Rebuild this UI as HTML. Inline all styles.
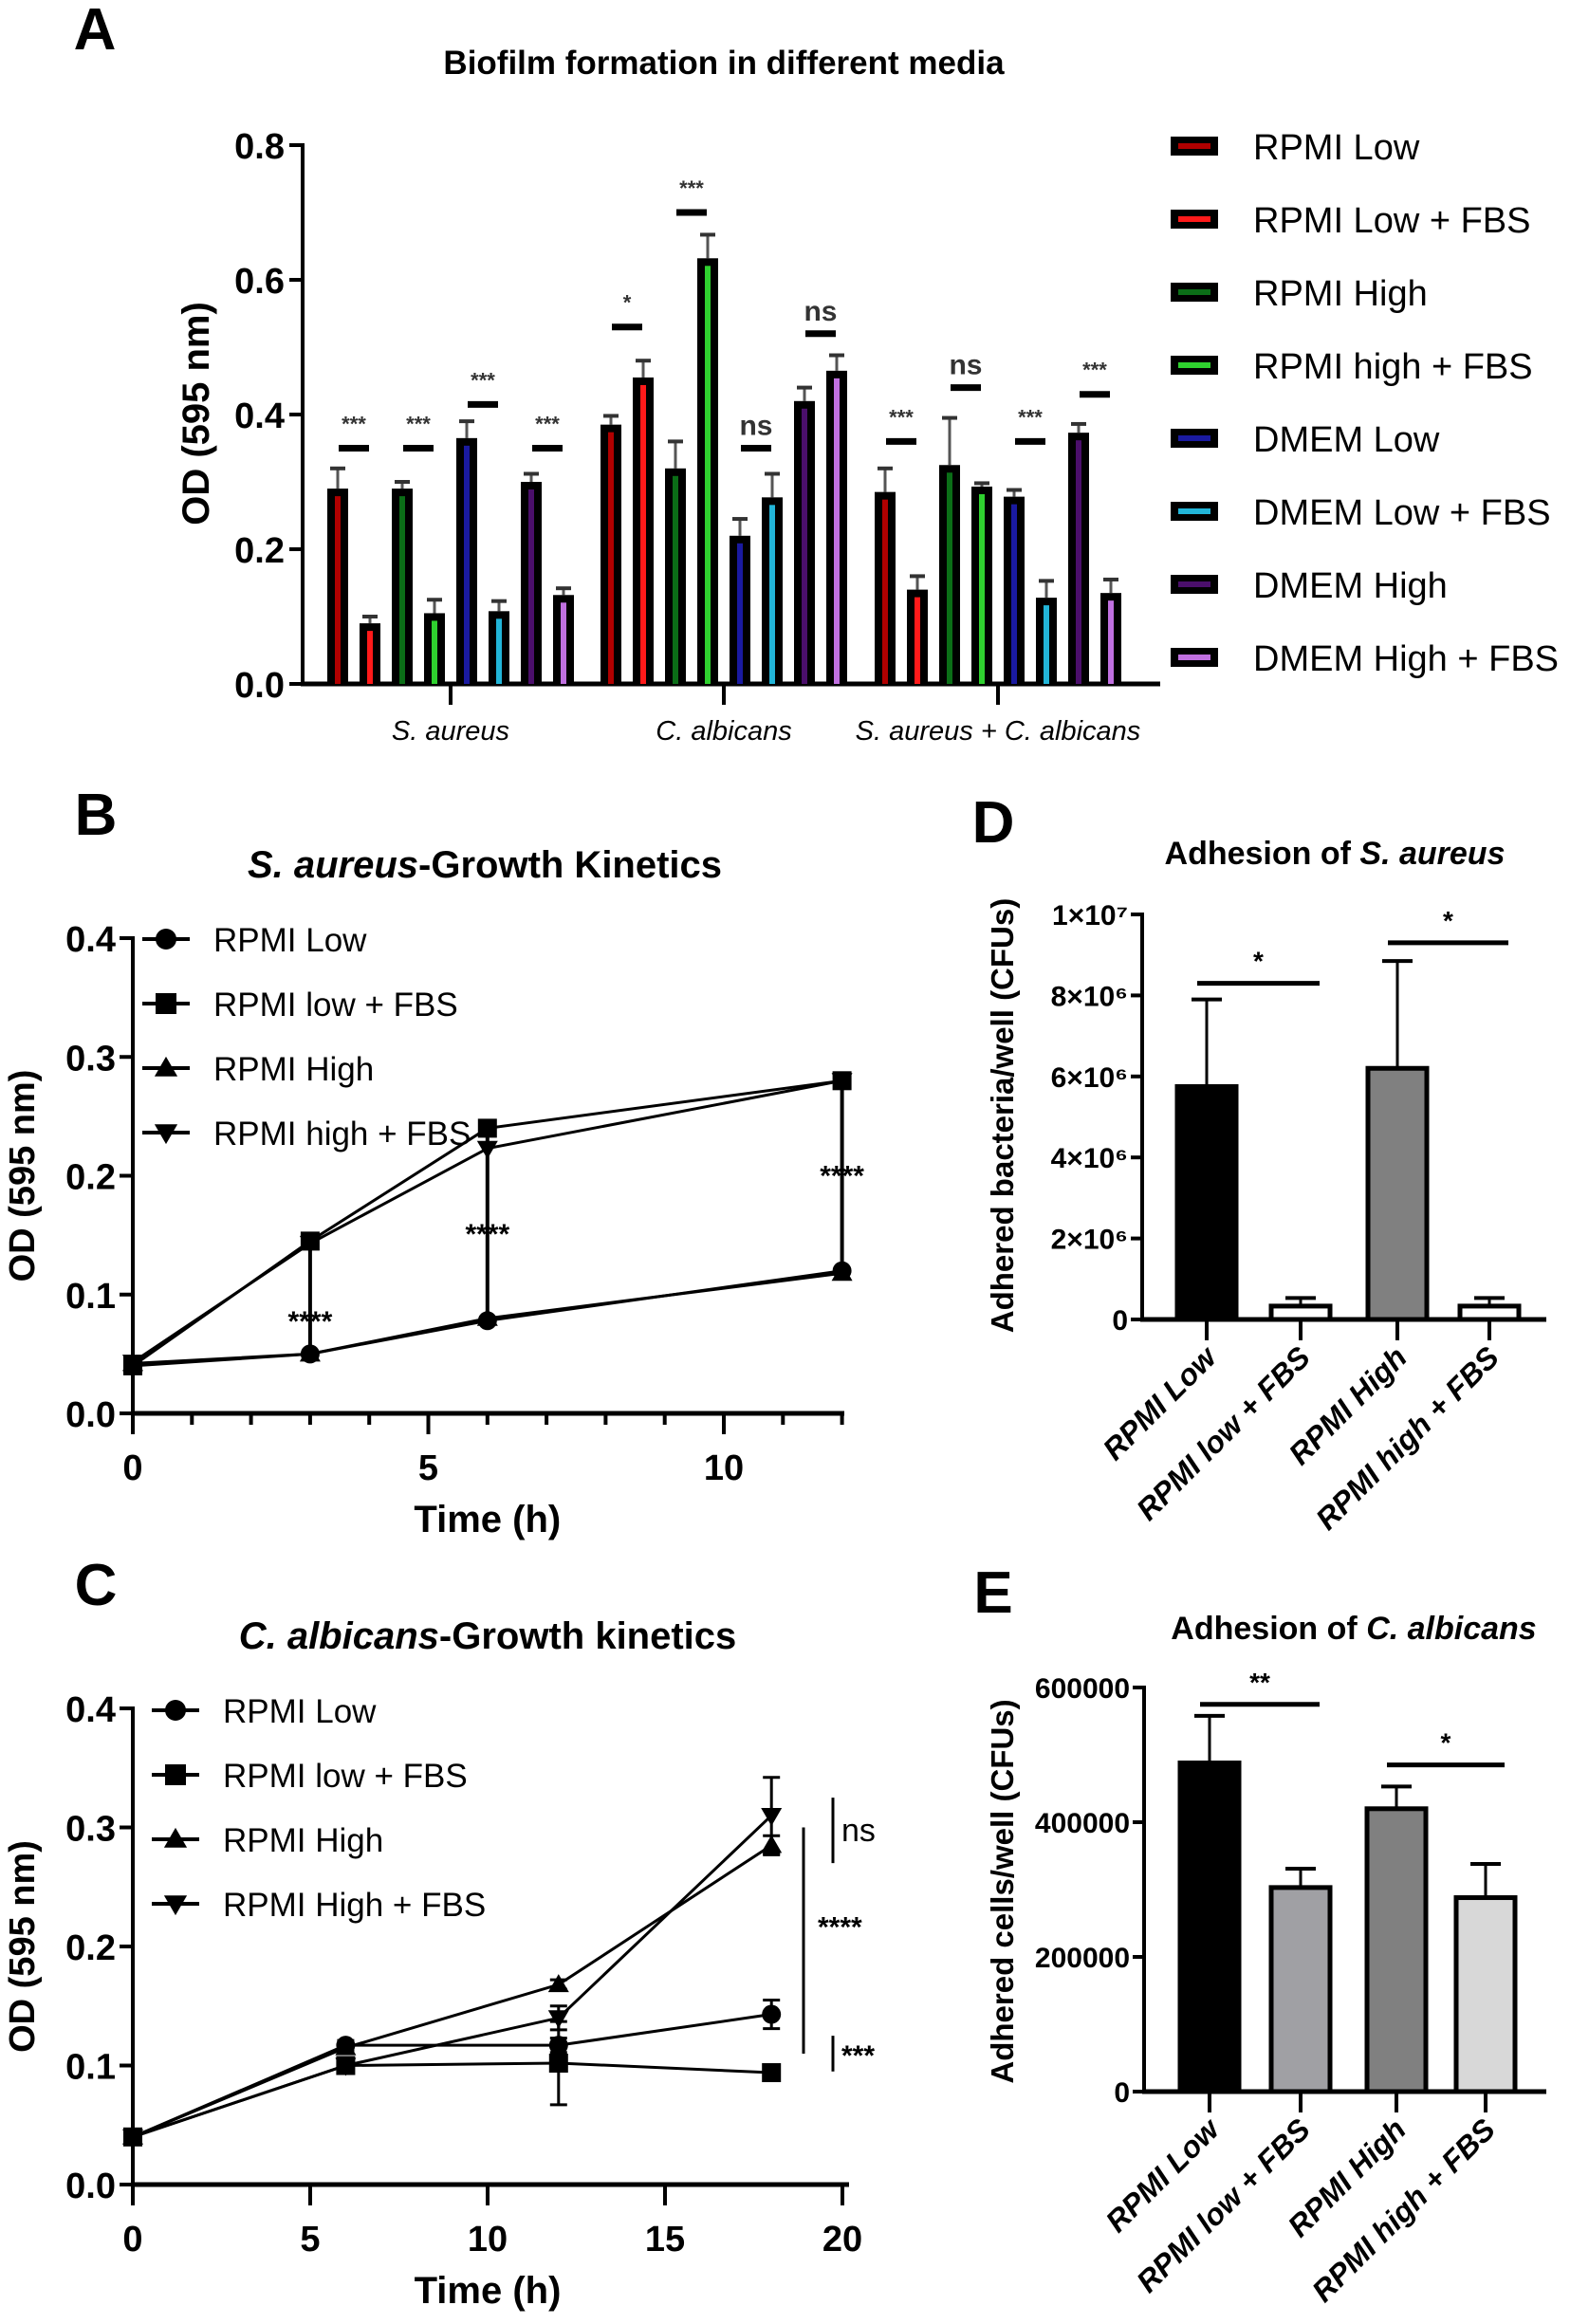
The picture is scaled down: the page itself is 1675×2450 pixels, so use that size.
<!DOCTYPE html>
<html><head><meta charset="utf-8"><style>
body{margin:0;background:#fff}
svg{display:block;font-family:"Liberation Sans Narrow","Liberation Sans",sans-serif;font-weight:bold}
</style></head><body>
<svg id="s" width="1675" height="2450" viewBox="0 0 1675 2450" xmlns="http://www.w3.org/2000/svg"></svg>
<script>
// ---- Panel A data ----
const aGroups=["S. aureus","C. albicans","S. aureus + C. albicans"];
const aSeries=["RPMI Low","RPMI Low + FBS","RPMI High","RPMI high + FBS","DMEM Low","DMEM Low + FBS","DMEM High","DMEM High + FBS"];
const aColors=["#b00000","#ff1a1a","#0b6e17","#2fd12f","#1a1aa0","#22b5d8","#4b0f6b","#c070e0"];
const aVals=[[0.29,0.09,0.29,0.105,0.365,0.108,0.30,0.132],[0.385,0.455,0.32,0.632,0.22,0.277,0.42,0.465],[0.285,0.14,0.325,0.293,0.278,0.128,0.373,0.135]];
const aErr=[[0.03,0.01,0.01,0.02,0.025,0.015,0.012,0.01],[0.013,0.025,0.04,0.035,0.025,0.035,0.02,0.023],[0.035,0.02,0.07,0.005,0.01,0.025,0.013,0.02]];
const aSigY=[[0.35,0.35,0.415,0.35],[0.53,0.70,0.35,0.52],[0.36,0.44,0.36,0.43]];
const aSigT=[["***","***","***","***"],["*","***","ns","ns"],["***","ns","***","***"]];
const aTicks=[0,0.2,0.4,0.6,0.8];
// ---- Panel B data ----
const bTimes=[0,3,6,12];
const bNames=["RPMI Low","RPMI low + FBS","RPMI High","RPMI high + FBS"];
const bVals=[[0.04,0.05,0.078,0.12],[0.04,0.145,0.24,0.28],[0.042,0.05,0.08,0.118],[0.043,0.143,0.223,0.28]];
const bXTicks=[0,5,10];
const bYTicks=[0,0.1,0.2,0.3,0.4];
// ---- Panel C data ----
const cTimes=[0,6,12,18];
const cNames=["RPMI Low","RPMI low + FBS","RPMI High","RPMI High + FBS"];
const cVals=[[0.04,0.117,0.117,0.143],[0.04,0.1,0.102,0.094],[0.04,0.115,0.168,0.285],[0.04,0.1,0.14,0.31]];
const cErr=[[0,0.004,0.006,0.012],[0,0.003,0.035,0.003],[0,0.003,0.004,0.008],[0,0.004,0.01,0.032]];
const cXTicks=[0,5,10,15,20];
// ---- Panel D data ----
const dCats=["RPMI Low","RPMI low + FBS","RPMI High","RPMI high + FBS"];
const dVals=[5.75e6,0.33e6,6.2e6,0.33e6];
const dErr=[2.15e6,0.2e6,2.65e6,0.2e6];
const dFill=["#000","#fff","#808080","#fff"];
const dTickV=[0,2e6,4e6,6e6,8e6,1e7];
const dTicks=["0","2×10⁶","4×10⁶","6×10⁶","8×10⁶","1×10⁷"];
// ---- Panel E data ----
const eVals=[488000,303000,420000,288000];
const eErr=[70000,28000,33000,50000];
const eFill=["#000","#a0a0a4","#808080","#d8d8d8"];
const eTicks=[0,200000,400000,600000];

const S=document.getElementById('s');const NS="http://www.w3.org/2000/svg";
function el(t,a,txt){const e=document.createElementNS(NS,t);for(const k in a)e.setAttribute(k,a[k]);if(txt!==undefined)e.textContent=txt;S.appendChild(e);return e;}
function line(x1,y1,x2,y2,w,c){return el('line',{x1,y1,x2,y2,stroke:c||'#000','stroke-width':w||4});}
function text(x,y,t,sz,anc,extra){const a={x,y,'font-size':sz,'text-anchor':anc||'middle'};Object.assign(a,extra||{});return el('text',a,t);}

[["A",100,52],["B",101,880],["C",101,1692],["D",1047,888],["E",1047,1700]].forEach(p=>{const t=text(p[1],p[2],p[0],62,'middle',{'font-family':'Liberation Sans'});});
let t;
t=text(763,78,"Biofilm formation in different media",35);
t=el('text',{x:511,y:925,'font-size':40,'text-anchor':'middle'});t.innerHTML='<tspan font-style="italic">S. aureus</tspan>-Growth Kinetics';
t=el('text',{x:514,y:1738,'font-size':40,'text-anchor':'middle'});t.innerHTML='<tspan font-style="italic">C. albicans</tspan>-Growth kinetics';
t=el('text',{x:1407,y:911,'font-size':34,'text-anchor':'middle'});t.innerHTML='Adhesion of <tspan font-style="italic">S. aureus</tspan>';
t=el('text',{x:1427,y:1728,'font-size':34,'text-anchor':'middle'});t.innerHTML='Adhesion of <tspan font-style="italic">C. albicans</tspan>';

// ===== Panel A =====
const aX0=319,aX1=1223,aY0=721,aY1=153;const ay=v=>aY0-(aY0-aY1)*v/0.8;
const aGC=[475,763,1052],bs=34;
line(aX0,aY1-2,aX0,aY0+2,4);line(aX0-2,aY0,aX1,aY0,5);
aTicks.forEach(v=>{line(aX0-14,ay(v),aX0,ay(v),4);t=text(300,ay(v)+14,v.toFixed(1),38,'end');});
t=text(0,0,"OD (595 nm)",40,'middle',{transform:'translate(220,436) rotate(-90)','font-family':'Liberation Sans'});
aGroups.forEach((g,gi)=>{
 line(aGC[gi],aY0,aGC[gi],aY0+22,4);
 t=text(aGC[gi],780,g,29,'middle',{'font-style':'italic','font-weight':'normal'});
 aVals[gi].forEach((v,si)=>{
  const cx=aGC[gi]+(si-3.5)*bs;
  line(cx,ay(v),cx,ay(v+aErr[gi][si]),3,'#555');line(cx-8,ay(v+aErr[gi][si]),cx+8,ay(v+aErr[gi][si]),4,'#333');
  let r=el('rect',{x:cx-11,y:ay(v),width:22,height:aY0-ay(v),fill:'#000'});
  el('rect',{x:cx-3,y:ay(v)+8,width:6,height:Math.max(0,aY0-ay(v)-8),fill:aColors[si]});
 });
 for(let p=0;p<4;p++){const cx=aGC[gi]+(2*p-3)*bs;const y=ay(aSigY[gi][p]);line(cx-16,y,cx+16,y,7);
  const tt=aSigT[gi][p];t=text(cx,y-(tt==='ns'?14:18),tt,tt==='ns'?30:22,'middle',{fill:'#333'});}
});
aSeries.forEach((n,i)=>{const y=154+i*77;
 el('rect',{x:1234,y:y-10,width:50,height:20,fill:'#000'});el('rect',{x:1242,y:y-3,width:34,height:6,fill:aColors[i]});
 t=text(1321,y+14,n,38,'start',{'font-weight':'normal'});});

function marker(k,x,y,r){r=r||10;
 if(k===0)el('circle',{cx:x,cy:y,r:r,fill:'#000'});
 else if(k===1)el('rect',{x:x-r,y:y-r,width:2*r,height:2*r,fill:'#000'});
 else if(k===2)el('polygon',{points:`${x},${y-r*1.1} ${x-r*1.1},${y+r*0.8} ${x+r*1.1},${y+r*0.8}`,fill:'#000'});
 else el('polygon',{points:`${x},${y+r*1.1} ${x-r*1.1},${y-r*0.8} ${x+r*1.1},${y-r*0.8}`,fill:'#000'});}
function lineChart(o){
 const xs=v=>o.x0+v*o.ux,ys=v=>o.y0-(o.y0-o.y1)*v/0.4;
 line(o.x0,o.y1-2,o.x0,o.y0+2,4);line(o.x0-2,o.y0,o.xEnd,o.y0,5);
 bYTicks.forEach(v=>{line(o.x0-14,ys(v),o.x0,ys(v),4);t=text(o.x0-18,ys(v)+14,v.toFixed(1),38,'end');});
 for(let v=0;v<=o.xMax;v+=o.minor){line(xs(v),o.y0,xs(v),o.y0+(o.ticks.includes(v)?22:12),4);}
 o.ticks.forEach(v=>{t=text(xs(v),o.y0+70,String(v),38);});
 t=text(xs(o.xMax/2),o.y0+125,"Time (h)",40,'middle');
 t=text(0,0,"OD (595 nm)",38,'middle',{transform:`translate(36,${(o.y0+o.y1)/2}) rotate(-90)`,'font-family':'Liberation Sans'});
 o.vals.forEach((s,k)=>{const pl=el('polyline',{points:s.map((v,i)=>xs(o.times[i])+','+ys(v)).join(' '),fill:'none',stroke:'#000','stroke-width':3});
  s.forEach((v,i)=>{if(o.err){const e=o.err[k][i];if(e>0){line(xs(o.times[i]),ys(v-e),xs(o.times[i]),ys(v+e),3);line(xs(o.times[i])-9,ys(v+e),xs(o.times[i])+9,ys(v+e),3);line(xs(o.times[i])-9,ys(v-e),xs(o.times[i])+9,ys(v-e),3);}}marker(k,xs(o.times[i]),ys(v));});});
 o.names.forEach((n,k)=>{const y=o.ly+k*o.lstep;line(o.lx-25,y,o.lx+25,y,4);marker(k,o.lx,y,11);t=text(o.lx+50,y+13,n,35,'start',{'font-weight':'normal'});});
 return {xs,ys};
}
const B=lineChart({x0:140,ux:62.3,y0:1490,y1:989,xEnd:890,xMax:12,minor:1,ticks:bXTicks,times:bTimes,vals:bVals,names:bNames,lx:175,ly:990,lstep:68});
[1,2,3].forEach(i=>{const x=B.xs(bTimes[i]);line(x,B.ys(bVals[0][i]),x,B.ys(bVals[1][i]),4);
 t=text(x,B.ys((bVals[0][i]+bVals[1][i])/2)+(i===1?35:i===2?20:10),"****",30);});
const C=lineChart({x0:140,ux:37.4,y0:2303,y1:1801,xEnd:895,xMax:20,minor:5,ticks:cXTicks,times:cTimes,vals:cVals,err:cErr,names:cNames,lx:185,ly:1803,lstep:68});
line(878,C.ys(0.325),878,C.ys(0.27),3);t=text(887,C.ys(0.298)+12,"ns",34,'start',{'font-weight':'normal'});
line(847,C.ys(0.3),847,C.ys(0.11),3);t=text(862,C.ys(0.218)+12,"****",30,'start');
line(878,C.ys(0.125),878,C.ys(0.095),3);t=text(887,C.ys(0.11)+12,"***",30,'start');

function barChart(o){
 const ys=v=>o.y0-(o.y0-o.y1)*v/o.max;
 line(o.x0,o.y1-2,o.x0,o.y0+2,4);line(o.x0-2,o.y0,1630,o.y0,5);
 o.tickV.forEach((v,i)=>{line(o.x0-12,ys(v),o.x0,ys(v),4);t=text(o.x0-15,ys(v)+11,o.tickL[i],30,'end');});
 t=text(0,0,o.yTitle,33,'middle',{transform:`translate(1068,${o.yc}) rotate(-90)`,'font-family':'Liberation Sans'});
 o.vals.forEach((v,i)=>{const cx=o.cx[i];
  line(cx,ys(v),cx,ys(v+o.err[i]),3);line(cx-16,ys(v+o.err[i]),cx+16,ys(v+o.err[i]),4);
  const r=el('rect',{x:cx-31,y:ys(v),width:62,height:o.y0-ys(v),fill:o.fill[i],stroke:'#000','stroke-width':5});
  line(cx,o.y0,cx,o.y0+22,4);
  t=text(0,0,dCats[i],32,'end',{'font-style':'italic',transform:`translate(${cx+12},${o.y0+42}) rotate(-45)`});});
 o.sig.forEach(s=>{const y=ys(s[2]);line(o.cx[s[0]]-10,y,o.cx[s[1]]+20,y,5);t=text((o.cx[s[0]]+o.cx[s[1]])/2+5,y-14,s[3],28);});
}
barChart({x0:1204,y0:1391,y1:964,max:1e7,tickV:dTickV,tickL:dTicks,vals:dVals,err:dErr,fill:dFill,cx:[1272,1371,1473,1570],yTitle:"Adhered bacteria/well (CFUs)",yc:1176,sig:[[0,1,8.3e6,"*"],[2,3,9.3e6,"*"]]});
barChart({x0:1206,y0:2205,y1:1779,max:600000,tickV:eTicks,tickL:eTicks.map(String),vals:eVals,err:eErr,fill:eFill,cx:[1275,1371,1472,1566],yTitle:"Adhered cells/well (CFUs)",yc:1994,sig:[[0,1,575000,"**"],[2,3,485000,"*"]]});
</script>
</body></html>
